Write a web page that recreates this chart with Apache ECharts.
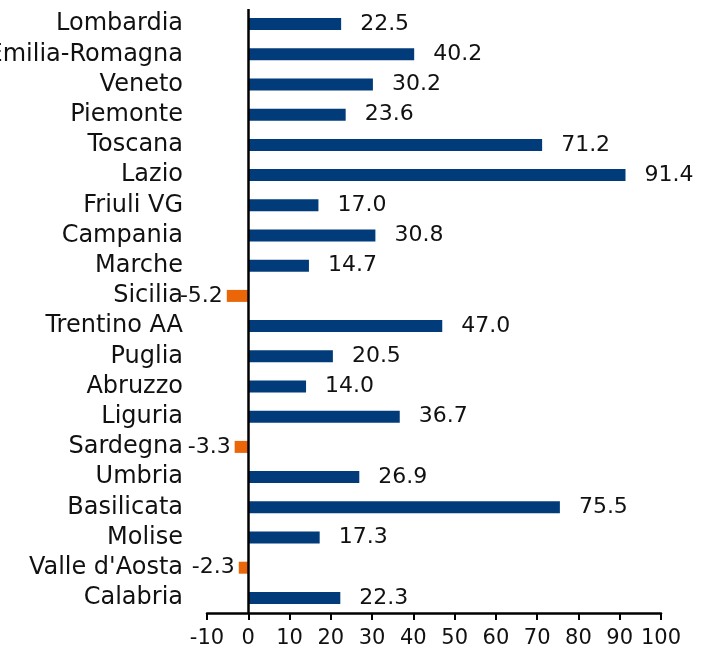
<!DOCTYPE html>
<html>
<head>
<meta charset="utf-8">
<script src="https://cdn.jsdelivr.net/npm/echarts@6/dist/echarts.min.js"></script>
<style>
html,body{margin:0;padding:0;background:#fff}
#main{width:709px;height:657px}
</style>
</head>
<body>
<div id="main"></div>
<script>
// regioni, dall'alto verso il basso
var regions = ['Lombardia','Emilia-Romagna','Veneto','Piemonte','Toscana','Lazio','Friuli VG','Campania','Marche','Sicilia',
	'Trentino AA','Puglia','Abruzzo','Liguria','Sardegna','Umbria','Basilicata','Molise',"Valle d'Aosta",'Calabria']
var values = [22.5,40.2,30.2,23.6,71.2,91.4,17.0,30.8,14.7,-5.2,47.0,20.5,14.0,36.7,-3.3,26.9,75.5,17.3,-2.3,22.3]
var xTicks = [-10,100,10] // min, max, passo

var BLUE = '#023b7a'
var ORANGE = '#ea6608'
var FONT = 'DejaVu Sans'

var data = values.map(function (v) {
	var neg = v < 0
	return {
		value: v,
		itemStyle: { color: neg ? ORANGE : BLUE },
		label: { position: neg ? 'left' : 'right', distance: neg ? 4 : 19 }
	}
})

var myChart = echarts.init(document.getElementById('main'))
myChart.setOption({
	animation: false,
	grid: { left: 207, right: 48, top: 9, bottom: 44, containLabel: false, outerBoundsMode: 'none' },
	xAxis: {
		type: 'value',
		min: xTicks[0],
		max: xTicks[1],
		interval: xTicks[2],
		splitLine: { show: false },
		axisLine: { show: true, onZero: false, lineStyle: { color: '#000', width: 2.5 } },
		axisTick: { show: true, length: 7, lineStyle: { color: '#000', width: 2 } },
		axisLabel: { color: '#111', fontFamily: FONT, fontSize: 21, margin: 15 }
	},
	yAxis: {
		type: 'category',
		inverse: true,
		data: regions,
		axisLine: { show: false, onZero: false },
		axisTick: { show: false },
		axisLabel: { color: '#111', fontFamily: FONT, fontSize: 24, margin: 24, interval: 0 }
	},
	series: [{
		type: 'bar',
		data: data,
		barWidth: 12,
		label: {
			show: true,
			color: '#111',
			fontFamily: FONT,
			fontSize: 22,
			formatter: function (p) { return p.value.toFixed(1) }
		},
		markLine: {
			silent: true,
			symbol: 'none',
			label: { show: false },
			lineStyle: { color: '#000', width: 2.5, type: 'solid' },
			data: [{ xAxis: 0 }]
		}
	}]
})
</script>
</body>
</html>
